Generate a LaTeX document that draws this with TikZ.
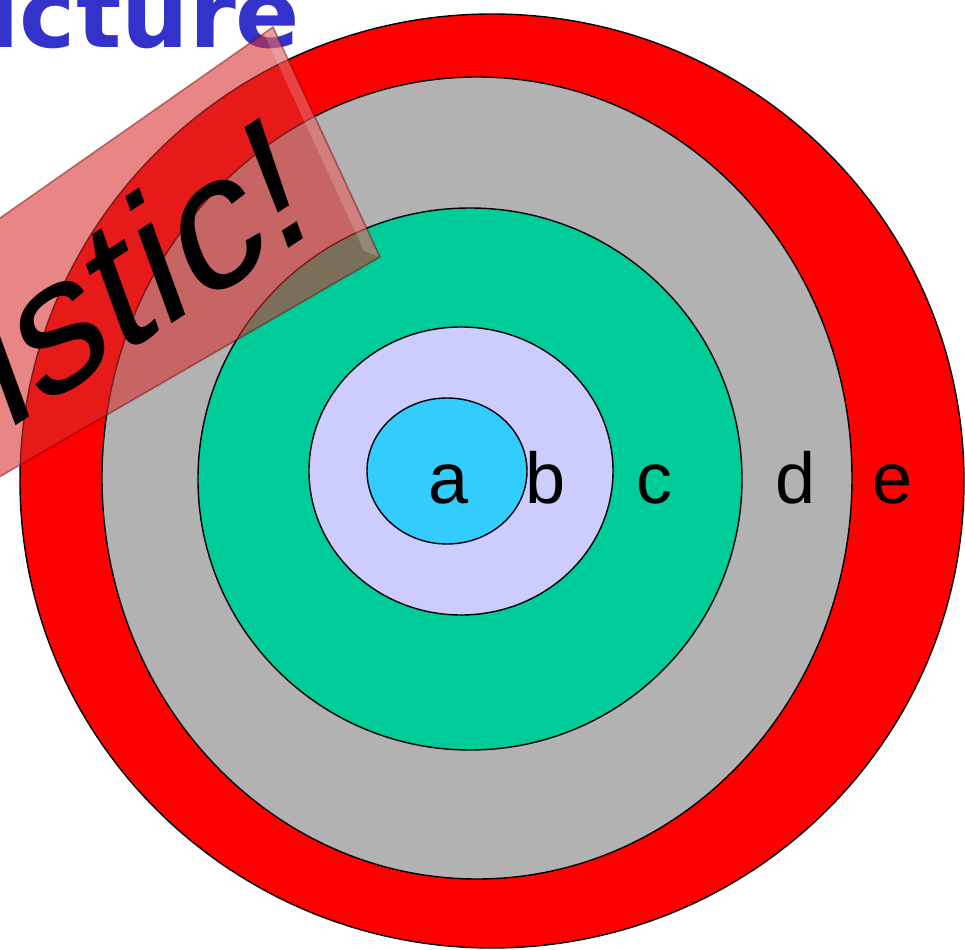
\documentclass[tikz,border=0pt]{standalone}
\usepackage{fontspec}
\usetikzlibrary{calc}
\newfontfamily\labelfont{Liberation Sans}
\newfontfamily\titlefont{DejaVu Sans}
\definecolor{ringE}{HTML}{FF0000}
\definecolor{ringD}{HTML}{B2B2B2}
\definecolor{ringC}{HTML}{00CC99}
\definecolor{ringB}{HTML}{CCCCFF}
\definecolor{ringA}{HTML}{33CCFF}
\definecolor{titleblue}{HTML}{3333CC}
\definecolor{bannerred}{HTML}{D72D2D}
\tikzset{
    ring/.style={draw=black, line width=0.8pt},
    ringlabel/.style={anchor=base, inner sep=0pt, font=\labelfont\fontsize{41}{48}\selectfont},
    titletext/.style={anchor=base west, inner sep=0pt, text=titleblue, font=\titlefont\bfseries\fontsize{54}{60}\selectfont},
    banner/.style={fill=bannerred, fill opacity=0.58},
    bannertext/.style={anchor=base east, inner sep=0pt, transform shape, font=\labelfont\fontsize{106}{120}\selectfont}
}
\begin{document}
\begin{tikzpicture}
    \useasboundingbox (0,0) rectangle (19.3,-19);
    \clip (0,0) rectangle (19.3,-19);

    % Rings, outer to inner
    \draw[ring, fill=ringE] (9.84,-9.62) ellipse (9.44 and 9.34);
    \draw[ring, fill=ringD] (9.54,-9.56) ellipse (7.50 and 8.02);
    \draw[ring, fill=ringC] (9.40,-9.58) ellipse (5.44 and 5.42);
    \draw[ring, fill=ringB] (9.22,-9.42) ellipse (3.04 and 2.88);
    \draw[ring, fill=ringA] (8.94,-9.42) ellipse (1.60 and 1.46);

    % Ring labels
    \node[ringlabel] (la) at (8.98,-10.08) {a};
    \node[ringlabel] (lb) at (10.92,-10.08) {b};
    \node[ringlabel] (lc) at (13.10,-10.08) {c};
    \node[ringlabel] (ld) at (15.92,-10.08) {d};
    \node[ringlabel] (le) at (17.86,-10.08) {e};

    % Title (cut by the page edge)
    \node[titletext] (title) at (-0.26,-0.96) {icture};

    % Banner plate
    \coordinate (bl) at (-1,-10.11);
    \coordinate (tl) at (-1,-5.06);
    \coordinate (tr) at (5.46,-0.54);
    \coordinate (br) at (7.60,-5.14);
    \fill[banner] (tl) -- (tr) -- (br) -- (bl) -- cycle;
    \fill[white, fill opacity=0.18] (tr) -- (br) -- ($(br)+(-0.32,0.12)$) -- ($(tr)+(-0.22,-0.05)$) -- cycle;
    \draw[red!45!black, draw opacity=0.45, line width=0.9pt] (tl) -- (tr) -- (br) -- (bl);

    % Banner text
    \begin{scope}[cm={0.839,0.545,-0.342,0.940,(6.36,-4.58)}]
        \node[bannertext] (warn) at (0,0) {istic!};
    \end{scope}
\end{tikzpicture}
\end{document}
